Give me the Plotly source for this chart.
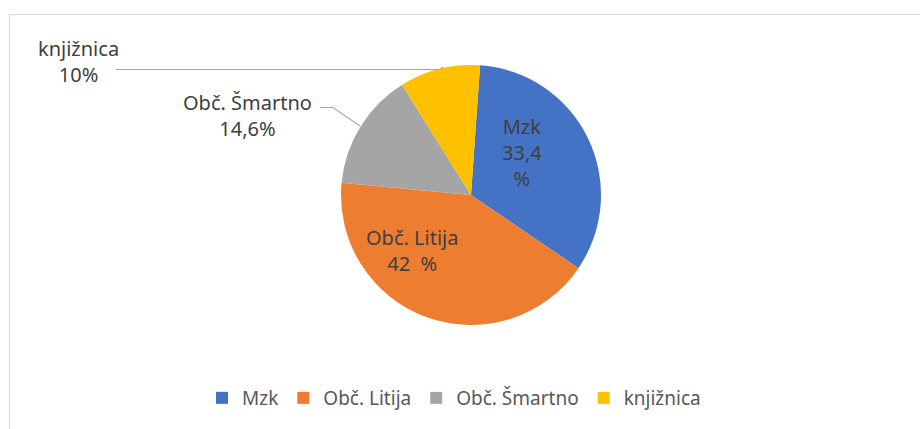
import plotly.graph_objects as go

categories = ["Mzk", "Obč. Litija", "Obč. Šmartno", "knjižnica"]
values = [33.4, 42, 14.6, 10]
label_texts = ["Mzk<br>33,4<br>%", "Obč. Litija<br>42  %", "Obč. Šmartno<br>14,6%", "knjižnica<br>10%"]
colors = ["#4472C4", "#ED7D31", "#A5A5A5", "#FFC000"]

W, H = 920, 429
def px(x):
    return x / W
def py(y):
    return 1 - y / H

FONT = "Noto Sans"
TXT = "#404040"

fig = go.Figure()
fig.add_trace(go.Pie(
    labels=categories, values=values, sort=False, direction="clockwise",
    rotation=4, marker=dict(colors=colors, line=dict(width=0)),
    textinfo="none", hoverinfo="label+percent",
    domain=dict(x=[px(341), px(601)], y=[py(325), py(65)]),
))

label_pos = [(522, 152), (412, 250), (247, 116), (78, 62)]
annotations = []
for t, (x, y) in zip(label_texts, label_pos):
    annotations.append(dict(x=px(x), y=py(y), xref="paper", yref="paper", text=t,
                            showarrow=False, font=dict(family=FONT, size=20, color=TXT),
                            xanchor="center", yanchor="middle", align="center"))

shapes = [
    dict(type="rect", xref="paper", yref="paper", x0=px(9.5), y0=py(14.5), x1=1.1, y1=-0.1,
         line=dict(color="#D9D9D9", width=1), fillcolor="rgba(0,0,0,0)", layer="below"),
    dict(type="path", xref="paper", yref="paper",
         path=f"M {px(320)} {py(107.5)} L {px(333)} {py(107.5)} L {px(360)} {py(126)}",
         line=dict(color="#A6A6A6", width=1.2)),
    dict(type="path", xref="paper", yref="paper",
         path=f"M {px(116)} {py(69.5)} L {px(440)} {py(69.5)} L {px(443)} {py(67)}",
         line=dict(color="#A6A6A6", width=1.2)),
]

fig.update_layout(
    width=W, height=H, margin=dict(l=0, r=0, t=0, b=0),
    paper_bgcolor="white", plot_bgcolor="white",
    showlegend=True,
    legend=dict(orientation="h", x=0.4935, xanchor="center", y=py(398), yanchor="middle",
                font=dict(family=FONT, size=19, color="#595959"), itemwidth=30,
                traceorder="normal"),
    annotations=annotations, shapes=shapes,
)

fig.write_html("out.html", config={"displayModeBar": False},
               post_script="document.body.style.margin='0px';document.body.style.overflow='hidden';")
